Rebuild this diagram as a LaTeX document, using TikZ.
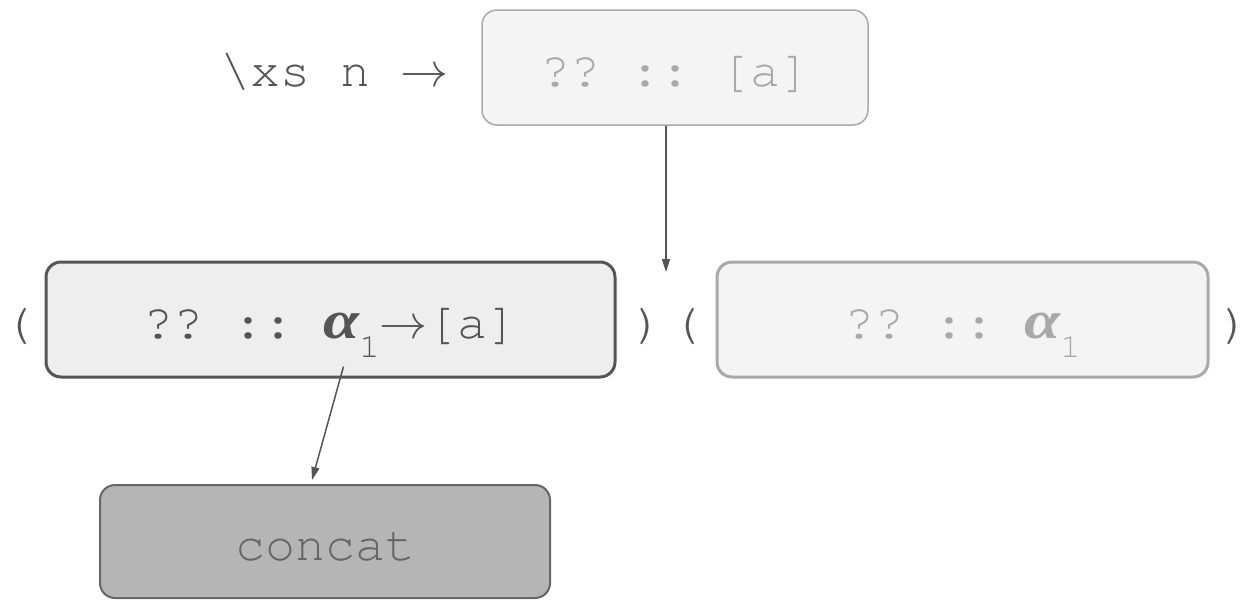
\documentclass[tikz,border=0pt]{standalone}
\usepackage{graphicx}
\usepackage{fontspec}
\setmonofont{TeX Gyre Cursor}
\newfontfamily\serifsym{Liberation Serif}
\usetikzlibrary{arrows.meta}
\definecolor{inkdark}{HTML}{555555}
\definecolor{inklight}{HTML}{A9A9A9}
\definecolor{paperlight}{HTML}{F4F4F4}
\definecolor{papermid}{HTML}{EEEEEE}
\definecolor{paperdark}{HTML}{B5B5B5}
\definecolor{edgedark}{HTML}{666666}
\newcommand{\bigtt}{\fontsize{50}{60}\selectfont\ttfamily}
% a full-width function arrow, scaled up from the 10pt math glyph
\newcommand{\arr}{\scalebox{4.8}{\fontsize{10}{12}\selectfont$\rightarrow$}}
\newcommand{\alphaone}{\scalebox{1.3}[1.08]{\serifsym\bfseries\itshape α}\raisebox{-19pt}{\fontsize{34}{34}\selectfont\ttfamily 1}}
\newcommand{\paren}[1]{\makebox[16pt]{#1}}
\begin{document}
\begin{tikzpicture}[x=1pt,y=-1pt,
  card/.style={rounded corners=15pt, inner sep=0pt, font=\bigtt,
    text height=45pt, text depth=8pt},
  holebox/.style={card, fill=paperlight, draw=inklight, text=inklight},
  focusbox/.style={card, fill=papermid, draw=inkdark, text=inkdark, line width=3pt},
  leafbox/.style={card, fill=paperdark, draw=edgedark, text=edgedark, line width=2pt},
  plain/.style={font=\bigtt, text=inkdark, inner sep=0pt},
  link/.style={draw=inkdark, line width=1.5pt, -{Triangle[length=13pt,width=8pt]}}]
\useasboundingbox (0,0) rectangle (1244,600);
% goal: the lambda body
\node[holebox, line width=1.5pt, minimum width=386pt, minimum height=115pt] (goal) at (675,67.5) {?? :: [a]};
\node[plain, anchor=base west] (lam) at (220,86) {\textbackslash xs n \arr};
% application: function hole applied to argument hole
\node[focusbox, minimum width=569pt, minimum height=115pt] (fun) at (330.5,319.5) {?? :: \alphaone\arr[a]};
\node[holebox, line width=3pt, minimum width=491pt, minimum height=115pt] (arg) at (962.5,319.5) {?? :: \alphaone};
\node[plain, anchor=base] (lp1) at (18,338) {\paren{(}};
\node[plain, anchor=base] (rp1) at (648,338) {\paren{)}};
\node[plain, anchor=base] (lp2) at (686,338) {\paren{(}};
\node[plain, anchor=base] (rp2) at (1235,338) {\paren{)}};
% candidate filling the function hole
\node[leafbox, minimum width=450pt, minimum height=113pt] (leaf) at (325,541.5) {concat};
\coordinate (split) at (666,272);
\coordinate (funtop) at (312,480);
\draw[link] ([xshift=-9pt]goal.south) -- (split);
\draw[link] ([xshift=13pt,yshift=12pt]fun.south) -- (funtop);
\end{tikzpicture}
\end{document}
